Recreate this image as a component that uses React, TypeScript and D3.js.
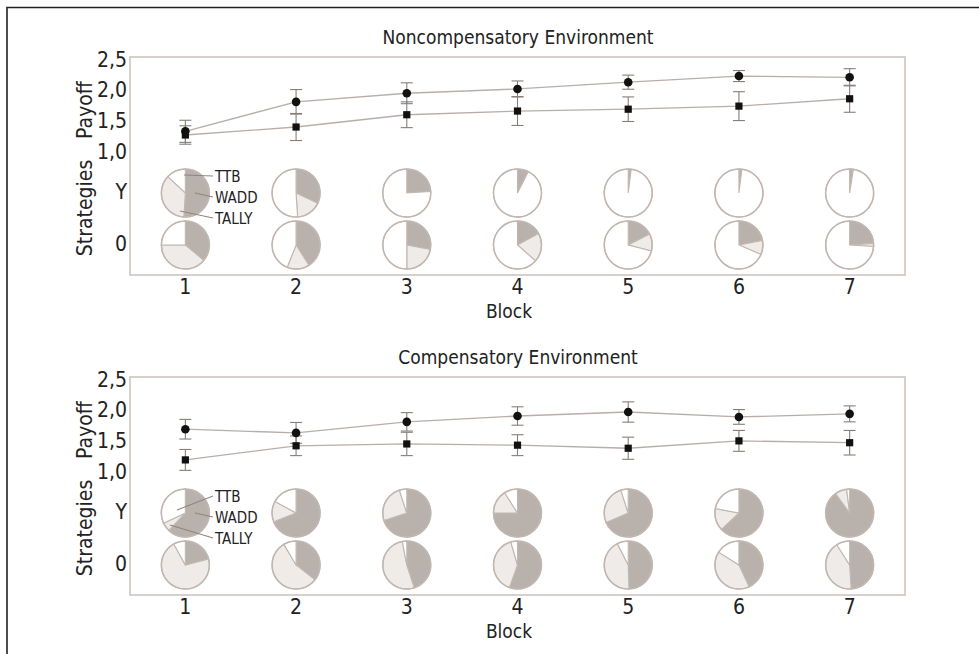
import React from "react";
import * as d3 from "d3";

const blocks = [1, 2, 3, 4, 5, 6, 7];
const payoffTicks = [1.0, 1.5, 2.0, 2.5];
const payoffTickLabels = ["1,0", "1,5", "2,0", "2,5"];
const strategyNames = ["WADD", "TALLY", "TTB"];
const rowLabels = ["Y", "0"];
const panelTitles = ["Noncompensatory Environment", "Compensatory Environment"];

// Noncompensatory payoffs
const nonCircle = [1.35, 1.83, 1.97, 2.04, 2.15, 2.25, 2.23];
const nonCircleErr = [0.18, 0.2, 0.17, 0.13, 0.115, 0.09, 0.14];
const nonSquare = [1.29, 1.42, 1.62, 1.68, 1.71, 1.76, 1.88];
const nonSquareErr = [0.15, 0.22, 0.21, 0.235, 0.2, 0.235, 0.22];
// Compensatory payoffs
const comCircle = [1.71, 1.65, 1.83, 1.925, 1.99, 1.91, 1.96];
const comCircleErr = [0.16, 0.17, 0.15, 0.15, 0.165, 0.12, 0.13];
const comSquare = [1.21, 1.44, 1.47, 1.45, 1.4, 1.52, 1.49];
const comSquareErr = [0.17, 0.16, 0.19, 0.17, 0.18, 0.17, 0.2];

// Strategy shares [WADD, TALLY, TTB] (%)
const nonY = [
  [51, 36, 13], [32, 17, 51], [24, 0, 76], [7.5, 0, 92.5], [2, 0, 98], [2, 0, 98], [2.5, 0, 97.5],
];
const nonO = [
  [36, 39, 25], [41, 15, 44], [28, 22, 50], [17, 19.5, 63.5], [17.5, 11.5, 71], [22, 9.5, 68.5], [24, 2, 74],
];
const comY = [
  [62, 6, 32], [69, 14, 17], [70, 25, 5], [75, 16, 9], [68.5, 26.5, 5], [63, 15, 22], [90, 8, 2],
];
const comO = [
  [21, 71, 8], [35.5, 56, 8.5], [45, 52, 3], [55.5, 40, 4.5], [49.5, 43, 7.5], [43, 41, 16], [49, 42, 9],
];

const FONT = "'Liberation Sans Narrow', 'DejaVu Sans Condensed', Roboto, sans-serif";
const sliceFill = ["#b9b1ac", "#eeebe9", "#ffffff"];
const pieStroke = "#c2b7b0";
const boxStroke = "#cdc5bf";

const x = d3.scaleLinear().domain([0.5, 7.5]).range([130, 905]);
const pieGen = d3.pie<number>().sort(null).value((d) => d);
const R = 24;
const arcGen = d3.arc<d3.PieArcDatum<number>>().innerRadius(0).outerRadius(R);

function Pie({ cx, cy, data }: { cx: number; cy: number; data: number[] }) {
  const arcs = pieGen(data);
  return (
    <g transform={`translate(${cx},${cy})`}>
      {arcs.map((a, i) =>
        a.value > 0 ? (
          <path key={i} d={arcGen(a) || ""} fill={sliceFill[i]} stroke={pieStroke} strokeWidth={1.1} />
        ) : null
      )}
      <circle r={R} fill="none" stroke={pieStroke} strokeWidth={1.5} />
    </g>
  );
}

function Panel({
  oy, title, circle, circleErr, square, squareErr, rowY, rowO, legendLines,
}: {
  oy: number; title: string; circle: number[]; circleErr: number[]; square: number[]; squareErr: number[];
  rowY: number[][]; rowO: number[][]; legendLines: number[][];
}) {
  const y = d3.scaleLinear().domain([1.0, 2.5]).range([152.8 + oy, 60.7 + oy]);
  const line = d3.line<number>().x((_, i) => x(blocks[i])).y((d) => y(d));
  const rowYc = 193 + oy;
  const rowOc = 245 + oy;
  const errBars = (vals: number[], errs: number[], key: string) =>
    vals.map((v, i) => {
      const cx = x(blocks[i]);
      const y1 = y(v - errs[i]);
      const y2 = y(v + errs[i]);
      return (
        <g key={key + i} stroke="#877e78" strokeWidth={1.1}>
          <line x1={cx} x2={cx} y1={y1} y2={y2} />
          <line x1={cx - 6} x2={cx + 6} y1={y1} y2={y1} />
          <line x1={cx - 6} x2={cx + 6} y1={y2} y2={y2} />
        </g>
      );
    });
  const legendY = [rowYc - 16, rowYc + 5, rowYc + 26];
  return (
    <g fontFamily={FONT}>
      <text x={518} y={38 + oy} fontSize={19} textAnchor="middle" dominantBaseline="middle" fill="#222">
        {title}
      </text>
      <rect x={130} y={57 + oy} width={775} height={218} fill="none" stroke={boxStroke} strokeWidth={1.6} />
      {payoffTicks.map((t, i) => (
        <text key={t} x={127} y={y(t)} fontSize={21} textAnchor="end" dominantBaseline="middle" fill="#222">
          {payoffTickLabels[i]}
        </text>
      ))}
      <text transform={`translate(86,${110 + oy}) rotate(-90)`} fontSize={21} textAnchor="middle" dominantBaseline="middle" fill="#222">
        Payoff
      </text>
      <text transform={`translate(86,${208 + oy}) rotate(-90)`} fontSize={21} textAnchor="middle" dominantBaseline="middle" fill="#222">
        Strategies
      </text>
      <text x={127} y={rowYc} fontSize={21} textAnchor="end" dominantBaseline="middle" fill="#222">{rowLabels[0]}</text>
      <text x={127} y={rowOc} fontSize={21} textAnchor="end" dominantBaseline="middle" fill="#222">{rowLabels[1]}</text>
      <path d={line(circle) || ""} fill="none" stroke="#b8aea7" strokeWidth={1.3} />
      <path d={line(square) || ""} fill="none" stroke="#b8aea7" strokeWidth={1.3} />
      {errBars(circle, circleErr, "ce")}
      {errBars(square, squareErr, "se")}
      {circle.map((v, i) => (
        <circle key={"c" + i} cx={x(blocks[i])} cy={y(v)} r={4.3} fill="#111" />
      ))}
      {square.map((v, i) => (
        <rect key={"s" + i} x={x(blocks[i]) - 3.6} y={y(v) - 3.6} width={7.2} height={7.2} fill="#111" />
      ))}
      {rowY.map((d, i) => (
        <Pie key={"py" + i} cx={x(blocks[i])} cy={rowYc} data={d} />
      ))}
      {rowO.map((d, i) => (
        <Pie key={"po" + i} cx={x(blocks[i])} cy={rowOc} data={d} />
      ))}
      {[2, 0, 1].map((si, k) => (
        <g key={"lg" + k}>
          <line x1={213} y1={legendY[k] - 1} x2={legendLines[k][0]} y2={legendLines[k][1] + oy} stroke="#8f8680" strokeWidth={1.1} />
          <text x={215} y={legendY[k]} fontSize={15} dominantBaseline="middle" fill="#222">
            {strategyNames[si]}
          </text>
        </g>
      ))}
      {blocks.map((b) => (
        <text key={"xt" + b} x={x(b)} y={288 + oy} fontSize={21} textAnchor="middle" dominantBaseline="middle" fill="#222">
          {b}
        </text>
      ))}
      <text x={509} y={312 + oy} fontSize={19} textAnchor="middle" dominantBaseline="middle" fill="#222">
        Block
      </text>
    </g>
  );
}

export default function App() {
  return (
    <div style={{ position: "fixed", left: 0, top: 0 }}>
      <svg width={979} height={654} style={{ display: "block", background: "#fff" }}>
        <rect width={979} height={654} fill="#fff" />
        <path d="M7,654 V7.5 H979" fill="none" stroke="#222" strokeWidth={1.6} />
        <Panel
          oy={0}
          title={panelTitles[0]}
          circle={nonCircle}
          circleErr={nonCircleErr}
          square={nonSquare}
          squareErr={nonSquareErr}
          rowY={nonY}
          rowO={nonO}
          legendLines={[[184, 175], [195, 193], [180, 211]]}
        />
        <Panel
          oy={320}
          title={panelTitles[1]}
          circle={comCircle}
          circleErr={comCircleErr}
          square={comSquare}
          squareErr={comSquareErr}
          rowY={comY}
          rowO={comO}
          legendLines={[[177, 190], [195, 193], [170, 205]]}
        />
      </svg>
    </div>
  );
}
